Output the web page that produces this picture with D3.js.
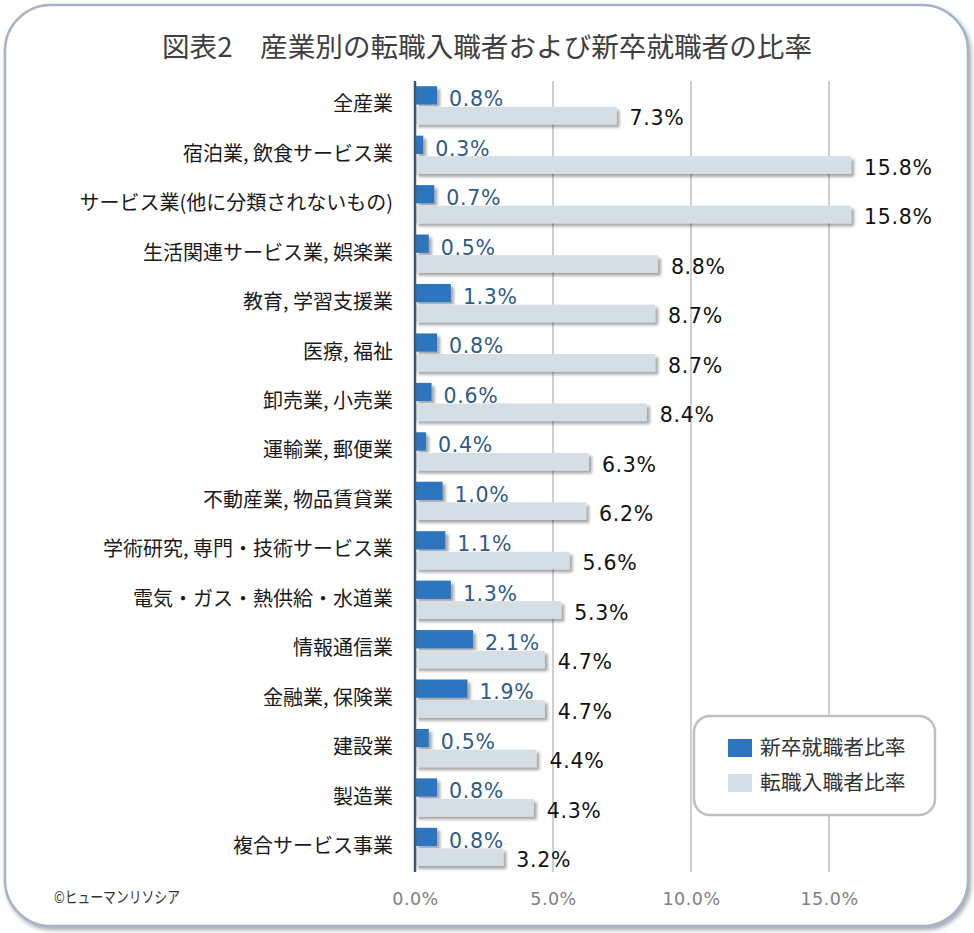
<!DOCTYPE html>
<html><head><meta charset="utf-8">
<script src="https://cdn.jsdelivr.net/npm/d3@7"></script>
<style>
html,body{margin:0;padding:0;background:#fff;}
svg{display:block;}
</style></head>
<body>
<svg id="chart" width="974" height="933"></svg>
<script>
const categories = ["全産業","宿泊業, 飲食サービス業","サービス業(他に分類されないもの)","生活関連サービス業, 娯楽業","教育, 学習支援業","医療, 福祉","卸売業, 小売業","運輸業, 郵便業","不動産業, 物品賃貸業","学術研究, 専門・技術サービス業","電気・ガス・熱供給・水道業","情報通信業","金融業, 保険業","建設業","製造業","複合サービス事業"];
const newGradRate = [0.8,0.3,0.7,0.5,1.3,0.8,0.6,0.4,1.0,1.1,1.3,2.1,1.9,0.5,0.8,0.8];
const jobChangeRate = [7.3,15.8,15.8,8.8,8.7,8.7,8.4,6.3,6.2,5.6,5.3,4.7,4.7,4.4,4.3,3.2];
const seriesNames = ["新卒就職者比率","転職入職者比率"];
const xTicks = [0,5,10,15];
const title = "図表2\u3000産業別の転職入職者および新卒就職者の比率";
const credit = "©ヒューマンリソシア";

const svg = d3.select("#chart");
const JP = "'Noto Sans CJK JP','Noto Sans',sans-serif";
const NUM = "'DejaVu Sans',Verdana,sans-serif";
const blue = "#2e75c0", grey = "#d5dde5";

const defs = svg.append("defs");
const f1 = defs.append("filter").attr("id","frameShadow").attr("x","-5%").attr("y","-5%").attr("width","110%").attr("height","110%");
f1.append("feDropShadow").attr("dx",2).attr("dy",3).attr("stdDeviation",2).attr("flood-color","#6b7487").attr("flood-opacity",0.6);
const f2 = defs.append("filter").attr("id","barShadow").attr("x","-10%").attr("y","-30%").attr("width","130%").attr("height","180%");
f2.append("feDropShadow").attr("dx",3).attr("dy",3).attr("stdDeviation",1.8).attr("flood-color","#000").attr("flood-opacity",0.35);

// frame
svg.append("rect").attr("x",5).attr("y",5).attr("width",963).attr("height",921).attr("rx",46).attr("ry",46)
  .attr("fill","#fff").attr("stroke","#a9b2c5").attr("stroke-width",2.5).attr("filter","url(#frameShadow)");

// title
svg.append("text").attr("x",487).attr("y",57).attr("text-anchor","middle")
  .attr("font-family",JP).attr("font-size",27.6).attr("fill","#3f3f3f").text(title);

const x = d3.scaleLinear().domain([0,15]).range([415,829]);
const y = d3.scaleBand().domain(categories).range([79.5,870.5]).padding(0);
const bw = y.bandwidth();

// gridlines
svg.append("g").selectAll("line").data(xTicks.filter(t=>t>0)).join("line")
  .attr("x1",d=>x(d)).attr("x2",d=>x(d)).attr("y1",81).attr("y2",872)
  .attr("stroke","#bfbfbf").attr("stroke-width",1.5);

const rows = categories.map((c,i)=>({c, a:newGradRate[i], b:jobChangeRate[i]}));

// bars
const gb = svg.append("g").attr("filter","url(#barShadow)");
gb.selectAll("rect.b").data(rows).join("rect").attr("class","b")
  .attr("x",x(0)).attr("y",d=>y(d.c)+bw*0.553).attr("width",d=>x(d.b)-x(0)).attr("height",bw*0.355)
  .attr("fill",grey);
gb.selectAll("rect.a").data(rows).join("rect").attr("class","a")
  .attr("x",x(0)).attr("y",d=>y(d.c)+bw*0.136).attr("width",d=>x(d.a)-x(0)).attr("height",bw*0.37)
  .attr("fill",blue);

// value labels
svg.append("g").selectAll("text").data(rows).join("text")
  .attr("x",d=>x(d.a)+12).attr("y",d=>y(d.c)+bw*0.54)
  .attr("font-family",NUM).attr("font-size",20.5).attr("letter-spacing",0.7).attr("fill","#2c5b88")
  .text(d=>d3.format(".1f")(d.a)+"%");
svg.append("g").selectAll("text").data(rows).join("text")
  .attr("x",d=>x(d.b)+13).attr("y",d=>y(d.c)+bw*0.93)
  .attr("font-family",NUM).attr("font-size",20.5).attr("letter-spacing",0.7).attr("fill","#111")
  .text(d=>d3.format(".1f")(d.b)+"%");

// category labels
svg.append("g").selectAll("text").data(categories).join("text")
  .attr("x",393).attr("y",d=>y(d)+bw/2).attr("dy","0.36em").attr("text-anchor","end")
  .attr("font-family",JP).attr("font-size",20).attr("fill","#1a1a1a").text(d=>d);

// axis line at zero
svg.append("line").attr("x1",x(0)).attr("x2",x(0)).attr("y1",81).attr("y2",872)
  .attr("stroke","#44546a").attr("stroke-width",2.5);

// x axis tick labels
const xAxis = d3.axisBottom(x).tickValues(xTicks).tickSize(0).tickPadding(0).tickFormat(d=>d3.format(".1f")(d)+"%");
const ga = svg.append("g").attr("transform","translate(0,899)").call(xAxis);
ga.select(".domain").remove();
ga.selectAll("text").attr("font-family",NUM).attr("font-size",17.5).attr("letter-spacing",0.5).attr("fill","#808080").attr("dy","0.36em").attr("y",0);

// legend
const lg = svg.append("g");
lg.append("rect").attr("x",694).attr("y",716).attr("width",241).attr("height",99).attr("rx",16)
  .attr("fill","#fff").attr("stroke","#bfbfbf").attr("stroke-width",2.5);
const legCol = [blue, grey];
seriesNames.forEach((n,i)=>{
  lg.append("rect").attr("x",728).attr("y",739+i*35).attr("width",24).attr("height",18).attr("fill",legCol[i]);
  lg.append("text").attr("x",760).attr("y",748+i*35).attr("dy","0.36em")
    .attr("font-family",JP).attr("font-size",20.8).attr("fill","#333").text(n);
});

// credit
svg.append("text").attr("x",54).attr("y",897).attr("dy","0.36em")
  .attr("font-family",JP).attr("font-size",16).attr("fill","#333")
  .attr("textLength",126).attr("lengthAdjust","spacingAndGlyphs").text(credit);
</script>
</body></html>
